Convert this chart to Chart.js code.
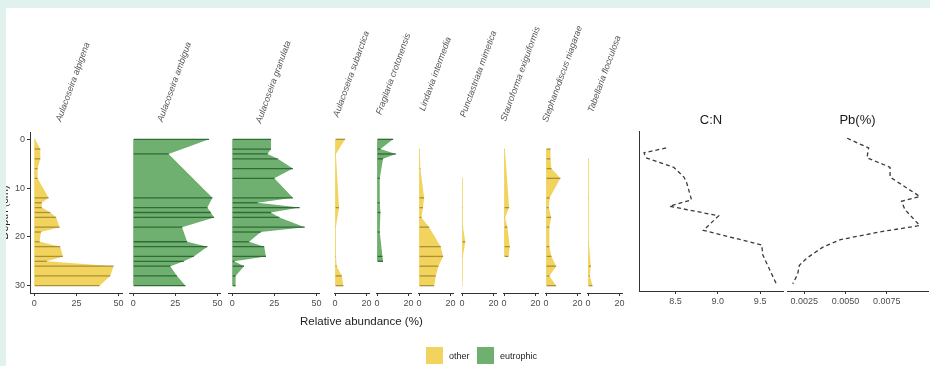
<!DOCTYPE html>
<html>
<head>
<meta charset="utf-8">
<script src="https://cdn.jsdelivr.net/npm/chart.js@4.4.1/dist/chart.umd.min.js"></script>
<style>
  html, body { margin: 0; padding: 0; width: 930px; height: 366px; overflow: hidden; background: #fff;
    font-family: "Liberation Sans", Arial, sans-serif; }
  canvas { position: absolute; }
  .strip { position: absolute; background: #e1f1ed; z-index: 10; }
  .txt { position: absolute; white-space: nowrap; }
  .key { position: absolute; width: 17px; height: 17px; }
</style>
</head>
<body>
<div class="strip" style="left:0;top:0;width:930px;height:8px"></div>
<div class="strip" style="left:0;top:0;width:6px;height:366px"></div>
<div id="root"></div>
<div class="txt" style="left:300px;top:315px;font-size:11.5px;color:#222">Relative abundance (%)</div>
<div class="key" style="left:426px;top:347px;background:#f2d35e"></div>
<div class="txt" style="left:449px;top:351px;font-size:9px;color:#222">other</div>
<div class="key" style="left:477px;top:347px;background:#6faf6f"></div>
<div class="txt" style="left:500px;top:351px;font-size:9px;color:#222">eutrophic</div>
<script>
// depth axis (cm), same for every panel
const depthMin = -1.5;
const depthMax = 31.5;
const depthTicks = [0, 10, 20, 30];

const taxa = ['Aulacoseira alpigena', 'Aulacoseira ambigua', 'Aulacoseira granulata',
  'Aulacoseira subarctica', 'Fragilaria crotonensis', 'Lindavia intermedia',
  'Punctastriata mimetica', 'Stauroforma exiguiformis', 'Stephanodiscus niagarae',
  'Tabellaria flocculosa'];
const taxonGroup = ['other', 'eutrophic', 'eutrophic', 'other', 'eutrophic',
  'other', 'other', 'other', 'other', 'other'];

// relative abundance (%) per sample depth
const alpigenaDepth = [0, 2, 4, 6, 8, 12, 13, 14, 15, 16, 18, 19, 21, 22, 24, 25, 26, 28, 30];
const alpigenaPct = [0.5, 3.6, 3.6, 2, 2, 8.5, 4.5, 4.5, 9.5, 13, 15, 4, 3.2, 15.4, 17, 7.5, 47, 45, 38.7];
const ambiguaDepth = [0, 3, 12, 14, 15, 16, 18, 21, 22, 24, 25, 26, 28, 30];
const ambiguaPct = [45, 21, 47, 44, 46, 48, 29, 32, 44, 36, 30, 22, 26, 31];
const granulataDepth = [0, 2, 3, 4, 6, 8, 12, 13, 14, 15, 16, 18, 19, 21, 22, 24, 25, 26, 28, 30];
const granulataPct = [23, 23, 21, 27, 36, 25, 36, 15, 40, 23, 28, 43, 17, 10, 19, 20, 1.2, 7, 2, 2];
const subarcticaDepth = [0, 3, 14, 18, 24, 26, 28, 30];
const subarcticaPct = [6.4, 0.5, 2.5, 0.5, 0.6, 1, 4.3, 5.3];
const crotonensisDepth = [0, 2, 3, 4, 8, 13, 15, 19, 24, 25];
const crotonensisPct = [10.2, 2.1, 11.9, 3.8, 1.7, 1.7, 2.1, 1.7, 3.4, 3.8];
const intermediaDepth = [2, 6, 12, 14, 16, 18, 22, 24, 26, 28, 30];
const intermediaPct = [0.5, 0.8, 3.2, 2.5, 1.5, 6.4, 13.8, 15.3, 12.3, 10.6, 9.6];
const mimeticaDepth = [8, 14, 18, 21, 24, 30];
const mimeticaPct = [0.5, 0.5, 0.6, 2, 0.5, 0.4];
const exiguiformisDepth = [2, 14, 16, 18, 22, 24];
const exiguiformisPct = [0.5, 3.2, 0.6, 2.1, 3.6, 2.8];
const niagaraeDepth = [2, 4, 6, 8, 12, 14, 16, 18, 22, 24, 26, 28, 30];
const niagaraePct = [2.8, 2.8, 3.4, 9.1, 2.3, 1.7, 3.2, 2.1, 2.1, 3.4, 6.4, 2.1, 6.4];
const flocculosaDepth = [4, 12, 14, 21, 26, 28, 30];
const flocculosaPct = [0.5, 0.5, 0.4, 0.5, 1.7, 1.1, 2.8];

// geochemistry
const cnDepth = [2, 3, 4, 6, 8, 9, 12.7, 14, 16, 19, 22, 24, 30];
const cnValue = [8.39, 8.13, 8.15, 8.48, 8.60, 8.63, 8.69, 8.43, 9.01, 8.83, 9.52, 9.53, 9.69];
const pbDepth = [0, 2, 4, 6, 8, 12, 13, 14.7, 18, 19.3, 20.9, 22.5, 24.6, 26.2, 28, 30];
const pbValue = [0.0051, 0.0064, 0.0063, 0.0077, 0.0077, 0.0095, 0.0084, 0.0086, 0.0095,
  0.0071, 0.0047, 0.0036, 0.0027, 0.0022, 0.0021, 0.0018];

const bigTicks = [0, 25, 50];
const smallTicks = [0, 20];
const cnTicks = [8.5, 9.0, 9.5];
const pbTicks = [0.0025, 0.005, 0.0075];

const taxonDepths = [alpigenaDepth, ambiguaDepth, granulataDepth, subarcticaDepth, crotonensisDepth,
  intermediaDepth, mimeticaDepth, exiguiformisDepth, niagaraeDepth, flocculosaDepth];
const taxonPcts = [alpigenaPct, ambiguaPct, granulataPct, subarcticaPct, crotonensisPct,
  intermediaPct, mimeticaPct, exiguiformisPct, niagaraePct, flocculosaPct];

// ---- layout / styles ----
const fills = { other: '#f2d35e', eutrophic: '#6faf6f' };
const segs = { other: '#a8913a', eutrophic: '#2f6b34' };
const panels = [
  { left: 30, width: 92, min: -2.5, max: 52, ticks: bigTicks, labelY: 82, labelDx: -3 },
  { left: 128.5, width: 91, min: -2.5, max: 51.5, ticks: bigTicks, labelY: 82, labelDx: 0 },
  { left: 227.5, width: 91, min: -2.5, max: 51.5, ticks: bigTicks, labelY: 82, labelDx: 0 },
  { left: 334, width: 35, min: -0.7, max: 21.6, ticks: smallTicks, labelY: 74, labelDx: 0 },
  { left: 376, width: 35, min: -0.7, max: 21.6, ticks: smallTicks, labelY: 74, labelDx: 0 },
  { left: 418, width: 35, min: -0.7, max: 21.6, ticks: smallTicks, labelY: 74, labelDx: 0 },
  { left: 460.5, width: 35, min: -0.7, max: 21.6, ticks: smallTicks, labelY: 74, labelDx: 0 },
  { left: 502.5, width: 35, min: -0.7, max: 21.6, ticks: smallTicks, labelY: 74, labelDx: 0 },
  { left: 545, width: 35, min: -0.7, max: 21.6, ticks: smallTicks, labelY: 74, labelDx: 0 },
  { left: 587, width: 35, min: -0.7, max: 21.6, ticks: smallTicks, labelY: 74, labelDx: 0 }
];

Chart.defaults.font.family = '"Liberation Sans", Arial, sans-serif';
Chart.defaults.color = '#4d4d4d';

const PAD_TOP = 108, PAD_SIDE = 12, PAD_RIGHT = 16, X_H = 24;

const stripLabel = {
  id: 'stripLabel',
  afterDraw(chart, args, opts) {
    if (!opts.text) return;
    const { ctx, chartArea } = chart;
    ctx.save();
    ctx.translate((chartArea.left + chartArea.right) / 2 + opts.dx, opts.y);
    ctx.rotate(-70 * Math.PI / 180);
    ctx.font = opts.font;
    ctx.fillStyle = opts.color;
    ctx.textAlign = 'center';
    ctx.textBaseline = 'middle';
    ctx.fillText(opts.text, 0, 0);
    ctx.restore();
  }
};

const panelTitle = {
  id: 'panelTitle',
  afterDraw(chart, args, opts) {
    if (!opts.text) return;
    const { ctx, chartArea } = chart;
    ctx.save();
    ctx.font = '13px "Liberation Sans", Arial, sans-serif';
    ctx.fillStyle = '#1a1a1a';
    ctx.textAlign = 'center';
    ctx.textBaseline = 'middle';
    ctx.fillText(opts.text, (chartArea.left + chartArea.right) / 2, chartArea.top - 11);
    ctx.restore();
  }
};

function xScale(min, max, ticks, fmt) {
  return {
    type: 'linear', min, max,
    afterBuildTicks: s => { s.ticks = ticks.map(v => ({ value: v })); },
    afterFit: s => { s.height = X_H; },
    ticks: { font: { size: 9 }, color: '#4d4d4d', padding: 2, maxRotation: 0, autoSkip: false,
      callback: v => fmt ? fmt(v) : v },
    grid: { offset: false, drawOnChartArea: false, drawTicks: true, tickLength: 3, color: '#333' },
    border: { display: true, color: '#333', width: 1 }
  };
}

function makeChart(left, top, width, height, config) {
  const c = document.createElement('canvas');
  c.width = width; c.height = height;
  c.style.left = left + 'px'; c.style.top = top + 'px';
  c.style.width = width + 'px'; c.style.height = height + 'px';
  document.getElementById('root').appendChild(c);
  return new Chart(c.getContext('2d'), config);
}

// diatom panels
taxa.forEach((name, i) => {
  const p = panels[i];
  const grp = taxonGroup[i];
  const pts = taxonDepths[i].map((d, k) => ({ x: taxonPcts[i][k], y: d }));
  const first = i === 0;
  const plotTop = 132, plotH = 161;
  const yW = first ? 30 : 0;
  const padLeft = first ? 0 : PAD_SIDE;
  const canvasLeft = p.left - padLeft - yW;
  const canvasTop = plotTop - PAD_TOP;
  const w = padLeft + yW + p.width + PAD_RIGHT;
  const h = PAD_TOP + plotH + X_H;
  makeChart(canvasLeft, canvasTop, w, h, {
    type: 'line',
    data: {
      datasets: [
        { type: 'bar', data: pts, backgroundColor: segs[grp], barThickness: 1.3, borderWidth: 0,
          inflateAmount: 0, clip: 0 },
        { type: 'line', data: pts, fill: 'origin', backgroundColor: fills[grp], clip: 0,
          borderColor: 'rgba(0,0,0,0)', borderWidth: 0, pointRadius: 0, tension: 0 }
      ]
    },
    options: {
      indexAxis: 'y',
      responsive: false,
      animation: false,
      layout: { padding: { top: PAD_TOP, left: padLeft, right: PAD_RIGHT, bottom: 0 } },
      plugins: {
        legend: { display: false }, tooltip: { enabled: false },
        stripLabel: { text: name, y: p.labelY - canvasTop, dx: p.labelDx, color: '#555',
          font: 'italic 9px "Liberation Sans", Arial, sans-serif' }
      },
      scales: {
        x: xScale(p.min, p.max, p.ticks),
        y: {
          type: 'linear', reverse: true, min: depthMin, max: depthMax, offset: false,
          display: first,
          afterBuildTicks: s => { s.ticks = depthTicks.map(v => ({ value: v })); },
          afterFit: s => { s.width = yW; },
          ticks: { font: { size: 9 }, color: '#4d4d4d', padding: 2 },
          grid: { offset: false, drawOnChartArea: false, drawTicks: true, tickLength: 3, color: '#333' },
          border: { display: true, color: '#333', width: 1 },
          title: { display: first, text: 'Depth (cm)', font: { size: 11 }, color: '#222',
            padding: { top: -1.5, bottom: 0 } }
        }
      }
    },
    plugins: [stripLabel]
  });
});

// geochemistry panels
function geoPanel(left, width, min, max, ticks, fmt, depths, vals, title, showY) {
  const plotTop = 131, plotH = 160;
  const canvasLeft = left - PAD_SIDE;
  const canvasTop = plotTop - PAD_TOP;
  makeChart(canvasLeft, canvasTop, PAD_SIDE + width + PAD_RIGHT, PAD_TOP + plotH + X_H, {
    type: 'line',
    data: {
      datasets: [{
        data: depths.map((d, k) => ({ x: vals[k], y: d })),
        borderColor: '#3a3a3a', borderWidth: 1.3, borderDash: [4, 3], pointRadius: 0,
        fill: false, tension: 0
      }]
    },
    options: {
      indexAxis: 'y',
      responsive: false,
      animation: false,
      layout: { padding: { top: PAD_TOP, left: PAD_SIDE, right: PAD_RIGHT, bottom: 0 } },
      plugins: { legend: { display: false }, tooltip: { enabled: false }, panelTitle: { text: title } },
      scales: {
        x: xScale(min, max, ticks, fmt),
        y: {
          type: 'linear', reverse: true, min: depthMin, max: depthMax, display: showY,
          afterFit: s => { s.width = 0; },
          ticks: { display: false },
          grid: { offset: false, drawOnChartArea: false, drawTicks: false },
          border: { display: true, color: '#333', width: 1 }
        }
      }
    },
    plugins: [panelTitle]
  });
}

geoPanel(639, 144, 8.07, 9.77, cnTicks, v => v.toFixed(1), cnDepth, cnValue, 'C:N', true);
geoPanel(786.5, 141.5, 0.00145, 0.0100, pbTicks, v => v.toFixed(4), pbDepth, pbValue, 'Pb(%)', false);
</script>
</body>
</html>
